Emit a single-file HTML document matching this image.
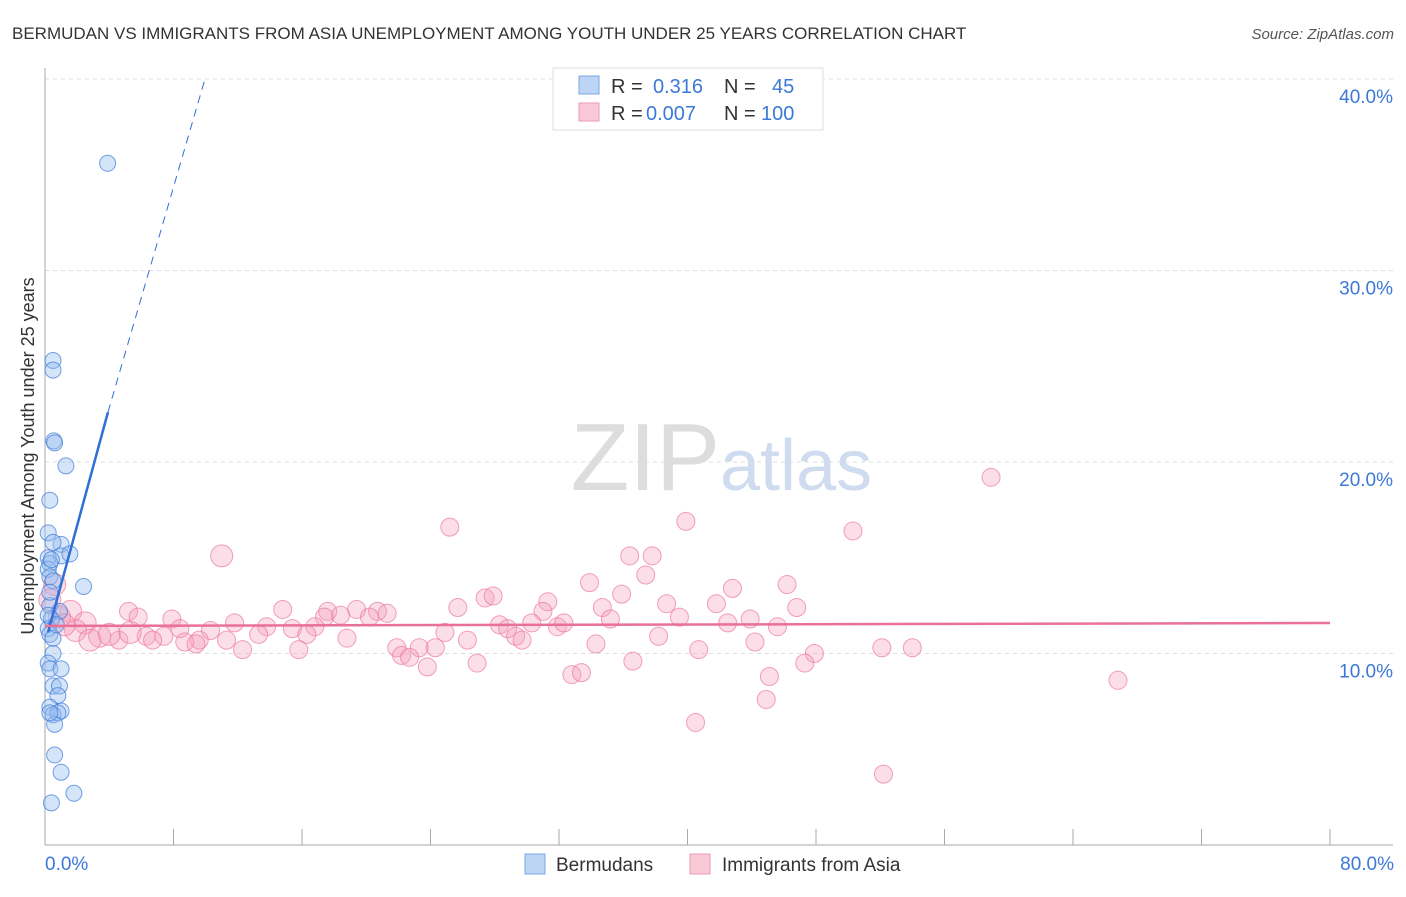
<!DOCTYPE html>
<html><head><meta charset="utf-8"><style>
body{margin:0;background:#fff;font-family:"Liberation Sans",sans-serif}
svg text{font-family:"Liberation Sans",sans-serif}
</style></head><body>
<svg id="c" width="1406" height="892" xmlns="http://www.w3.org/2000/svg">
<text x="12" y="39" font-size="17" fill="#333">BERMUDAN VS IMMIGRANTS FROM ASIA UNEMPLOYMENT AMONG YOUTH UNDER 25 YEARS CORRELATION CHART</text>
<text x="1394" y="39" font-size="15" fill="#555" font-style="italic" text-anchor="end">Source: ZipAtlas.com</text>
<text x="720" y="490" font-size="96" fill="#ddd" font-family="Liberation Serif" text-anchor="end">ZIP</text>
<text x="720" y="490" font-size="72" fill="#cfdcf0">atlas</text>
<g id="grid"></g><g id="axes"></g><g id="pts"></g><g id="lines"></g>
<text transform="translate(34,456) rotate(-90)" font-size="18" fill="#333" text-anchor="middle">Unemployment Among Youth under 25 years</text>
<g>
<rect x="553" y="68" width="270" height="62" fill="#fff" stroke="#ddd"/>
<rect x="579" y="76" width="20" height="18" fill="#bcd5f5" stroke="#7aa7e6"/>
<rect x="579" y="103" width="20" height="18" fill="#f9c9d8" stroke="#ef9ab5"/>
<text x="611" y="93" font-size="20" fill="#333">R = </text><text x="653" y="93" font-size="20" fill="#3c78d8">0.316</text>
<text x="724" y="93" font-size="20" fill="#333">N = </text><text x="772" y="93" font-size="20" fill="#3c78d8">45</text>
<text x="611" y="120" font-size="20" fill="#333">R = </text><text x="646" y="120" font-size="20" fill="#3c78d8">0.007</text>
<text x="724" y="120" font-size="20" fill="#333">N = </text><text x="761" y="120" font-size="20" fill="#3c78d8">100</text>
</g>
<g>
<rect x="525" y="854" width="20" height="20" fill="#bcd5f5" stroke="#7aa7e6"/>
<text x="556" y="871" font-size="19" fill="#333">Bermudans</text>
<rect x="690" y="854" width="20" height="20" fill="#f9c9d8" stroke="#ef9ab5"/>
<text x="722" y="871" font-size="19" fill="#333">Immigrants from Asia</text>
</g>
<text x="45" y="870" font-size="19" fill="#3c78d8">0.0%</text>
<text x="1394" y="870" font-size="19" fill="#3c78d8" text-anchor="end">80.0%</text>
</svg>
<script>
const yTicks=[10,20,30,40];
const yTickLabels=["10.0%","20.0%","30.0%","40.0%"];
const xTicks=[0,8,16,24,32,40,48,56,64,72,80];
const blueX=[3.9,0.5,0.5,0.55,0.6,1.3,0.3,0.2,1.0,0.5,1.0,1.55,0.2,0.3,0.2,0.3,0.5,2.4,0.3,0.9,0.4,0.2,0.3,0.5,0.2,0.3,1.0,0.5,0.9,0.8,0.3,1.0,0.5,0.8,0.6,0.6,1.0,1.8,0.4,0.5,0.3,0.4,0.2,0.7,0.3];
const blueY=[35.6,25.3,24.8,21.1,21.0,19.8,18.0,16.3,15.7,15.8,15.1,15.2,15.0,14.7,14.4,14.0,13.8,13.5,12.5,12.2,11.8,11.3,11.0,10.0,9.5,9.2,9.2,8.3,8.3,7.8,7.2,7.0,6.8,6.9,6.3,4.7,3.8,2.7,2.2,10.8,13.2,14.9,12.0,11.5,6.9];
const pinkX=[11.0,25.2,39.9,50.3,58.9,36.4,37.8,37.4,33.9,46.2,42.8,35.9,27.4,27.9,31.3,25.7,34.7,38.7,41.8,46.8,31.0,14.8,17.6,19.4,20.7,21.3,17.4,18.4,20.2,35.2,39.5,43.9,5.2,5.8,7.9,11.8,13.8,15.4,16.8,28.3,30.3,31.9,32.3,28.8,42.5,45.6,8.4,10.3,24.9,16.3,13.3,7.4,6.3,29.3,38.2,9.6,18.8,26.3,29.7,44.2,11.3,6.7,8.7,4.6,9.4,34.3,12.3,15.8,21.9,23.3,24.3,40.7,52.1,54.0,47.9,22.2,22.7,23.8,26.9,36.6,47.3,32.8,33.4,45.1,66.8,44.9,40.5,52.2,0.6,1.6,2.5,3.4,1.9,2.8,0.9,4.0,1.2,5.3,0.3];
const pinkY=[15.1,16.6,16.9,16.4,19.2,15.1,15.1,14.1,13.7,13.6,13.4,13.1,12.9,13.0,12.7,12.4,12.4,12.6,12.6,12.4,12.2,12.3,12.2,12.3,12.2,12.1,11.9,12.0,11.9,11.8,11.9,11.8,12.2,11.9,11.8,11.6,11.4,11.3,11.4,11.5,11.6,11.4,11.6,11.3,11.6,11.4,11.3,11.2,11.1,11.0,11.0,10.9,10.9,10.9,10.9,10.7,10.8,10.7,10.7,10.6,10.7,10.7,10.6,10.7,10.5,10.5,10.2,10.2,10.3,10.3,10.3,10.2,10.3,10.3,10.0,9.9,9.8,9.3,9.5,9.6,9.5,8.9,9.0,8.8,8.6,7.6,6.4,3.7,13.6,12.2,11.6,10.9,11.2,10.7,11.9,11.0,11.5,11.1,12.8];
const blueTrend=[[0.19,11.1],[3.92,22.6],[9.96,40]];
const pinkTrend=[[0,11.44],[80,11.59]];
const X=v=>45+v/80*1285, Y=v=>845-v*19.15;
const NS="http://www.w3.org/2000/svg";
function mk(p,t,a){const e=document.createElementNS(NS,t);for(const k in a)e.setAttribute(k,a[k]);document.getElementById(p).appendChild(e);return e;}
yTicks.forEach((t,i)=>{
 const l=mk('grid','line',{x1:45,x2:1393,y1:Y(t),y2:Y(t),stroke:'#ddd','stroke-dasharray':'4,4'});
 
 
 const tx=mk('grid','text',{x:1393,y:Y(t)+24,'font-size':19,fill:'#3c78d8','text-anchor':'end'});
 tx.textContent=yTickLabels[i];
 
 
});
const ax=mk('axes','line',{x1:45,x2:45,y1:68,y2:845,stroke:'#aaa'});


const bx=mk('axes','line',{x1:45,x2:1393,y1:845,y2:845,stroke:'#aaa'});


xTicks.forEach(t=>{const l=mk('axes','line',{x1:X(t),x2:X(t),y1:829,y2:845,stroke:'#aaa'});
 
 });
pinkX.forEach((x,i)=>{const big=(i==0||i>=88);const c=mk('pts','circle',{cx:X(x),cy:Y(pinkY[i]),r:big?11:9,fill:'rgba(244,160,188,0.35)',stroke:'rgba(236,120,160,0.7)','stroke-width':1});
 
 });
blueX.forEach((x,i)=>{const c=mk('pts','circle',{cx:X(x),cy:Y(blueY[i]),r:8,fill:'rgba(150,190,240,0.4)',stroke:'rgba(60,120,216,0.7)','stroke-width':1});
 
 });
const b1=mk('lines','line',{x1:X(blueTrend[0][0]),y1:Y(blueTrend[0][1]),x2:X(blueTrend[1][0]),y2:Y(blueTrend[1][1]),stroke:'#2f6fd6','stroke-width':2.5});


const b2=mk('lines','line',{x1:X(blueTrend[1][0]),y1:Y(blueTrend[1][1]),x2:X(blueTrend[2][0]),y2:Y(blueTrend[2][1]),stroke:'#2f6fd6','stroke-width':1,'stroke-dasharray':'8,6'});


const p1=mk('lines','line',{x1:X(pinkTrend[0][0]),y1:Y(pinkTrend[0][1]),x2:X(pinkTrend[1][0]),y2:Y(pinkTrend[1][1]),stroke:'#e8709a','stroke-width':2.5});


</script>
</body></html>
